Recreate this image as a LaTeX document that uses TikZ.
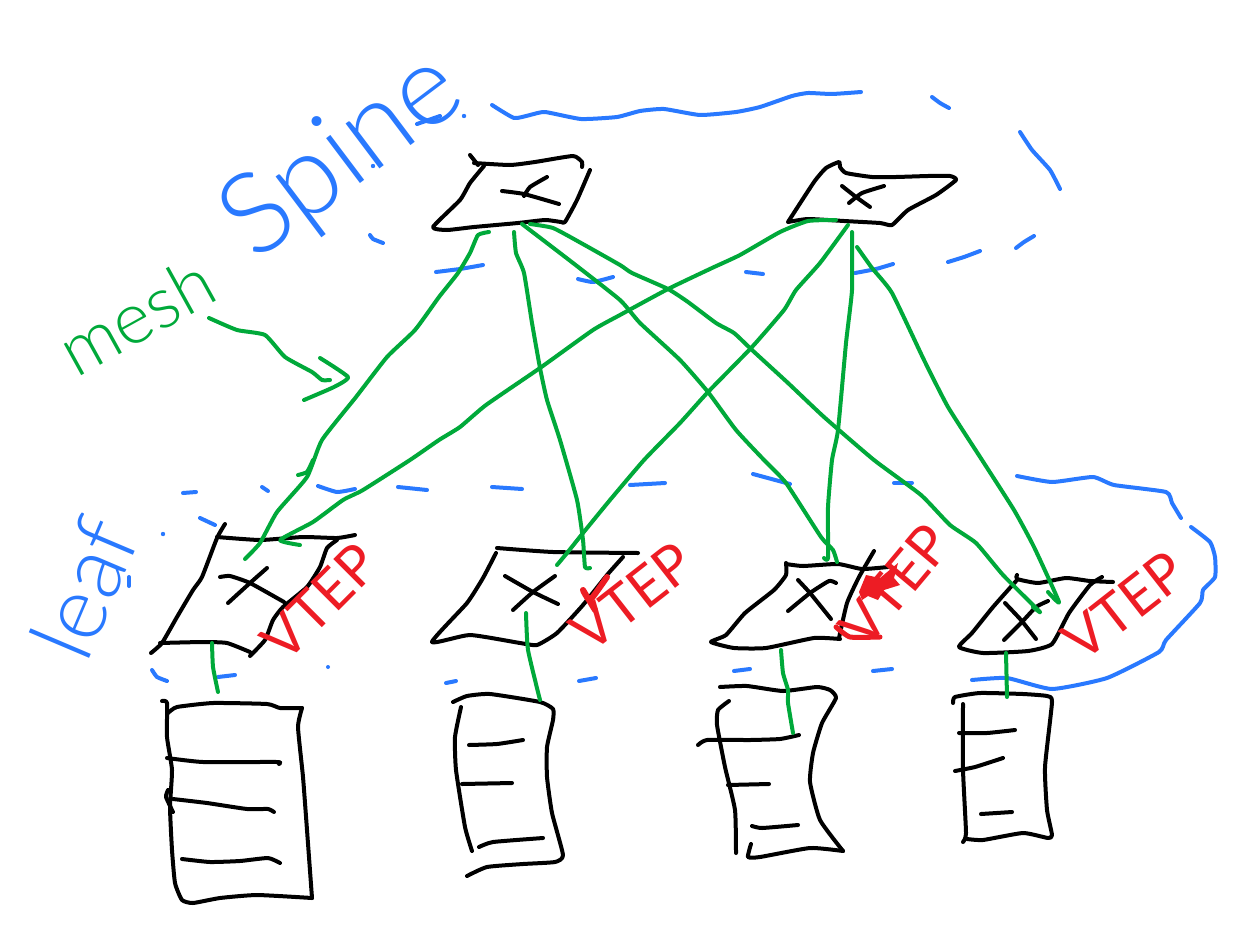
\documentclass[tikz,border=0pt]{standalone}
\usepackage{fontspec}
\newfontfamily\hand{Lato Light}
\newfontfamily\handb{Lato}
\definecolor{gk}{HTML}{00A93A}
\definecolor{bk}{HTML}{2979FF}
\definecolor{rk}{HTML}{ED1C24}
\tikzset{
 inkline/.style={line width=4pt,line cap=round,line join=round,smooth,tension=0.3},
 kk/.style={inkline,draw=black},
 gg/.style={inkline,draw=gk},
 bb/.style={inkline,draw=bk},
 rr/.style={inkline,draw=rk},
 lab/.style={inner sep=0pt,font=\hand},
 bluelab/.style={lab,text=bk},
 greenlab/.style={lab,text=gk},
 redlab/.style={lab,text=rk,font=\handb\fontsize{56}{56}\selectfont}
}
\begin{document}
\begin{tikzpicture}[x=1pt,y=-1pt]
\useasboundingbox (0,0) rectangle (1246,939);
\fill[white] (0,0) rectangle (1246,939);
% spine switch 1
\draw[kk] plot coordinates {(470,155)(478,165)};
\draw[kk] plot coordinates {(474,163)(510,165)(535,162)(573,156)(582,162)(582,167)};
\draw[kk] plot coordinates {(590,170)(577,200)(565,222)(561,222)(545,220)(518,223)(474,227)(447,230)(433,227)(460,200)(470,183)(484,166)};
\draw[kk] plot coordinates {(502,191)(524,194)(559,204)};
\draw[kk] plot coordinates {(547,177)(530,187)(524,196)};
% spine switch 2
\draw[kk] plot coordinates {(788,222)(814,182)(826,168)(839,162)(840,167)(846,173)(872,177)(896,177)(928,176)(950,176)(956,180)(936,195)(908,210)(892,225)(880,223)(844,221)(808,219)(788,222)};
\draw[kk] plot coordinates {(842,186)(856,197)(870,207)};
\draw[kk] plot coordinates {(884,186)(862,193)(849,203)};
% leaf switch 1
\draw[kk] plot coordinates {(225,524)(217,538)(202,577)(193,590)(177,617)(162,643)(151,653)};
\draw[kk] plot coordinates {(217,537)(260,540)(303,537)(337,538)(355,535)};
\draw[kk] plot coordinates {(337,540)(327,548)(320,567)(307,587)(283,607)(273,620)(265,640)(250,656)};
\draw[kk] plot coordinates {(160,643)(203,642)(227,643)(250,652)};
\draw[kk] plot coordinates {(220,577)(230,576)(250,583)(284,602)};
\draw[kk] plot coordinates {(267,568)(250,583)(228,603)};
% leaf switch 2
\draw[kk] plot coordinates {(497,548)(553,552)(638,553)};
\draw[kk] plot coordinates {(496,553)(483,578)(467,603)(432,642)(470,635)(520,643)(537,645)(557,633)(583,605)(607,575)(623,557)};
\draw[kk] plot coordinates {(505,576)(533,592)(558,604)};
\draw[kk] plot coordinates {(555,576)(533,592)(513,610)};
% leaf switch 3
\draw[kk] plot coordinates {(786,563)(786,575)(774,590)(745,613)(726,635)(711,642)(734,648)(766,648)(814,638)(840,639)};
\draw[kk] plot coordinates {(786,564)(803,566)(838,564)(862,569)(888,567)};
\draw[kk] plot coordinates {(874,551)(859,577)(847,603)(839,638)};
\draw[kk] plot coordinates {(798,580)(810,593)(831,619)};
\draw[kk] plot coordinates {(836,583)(829,581)(810,593)(788,611)};
% leaf switch 4
\draw[kk] plot coordinates {(1017,575)(1017,579)(1038,583)(1066,578)(1090,581)(1113,582)};
\draw[kk] plot coordinates {(1017,580)(993,607)(972,633)(959,647)(983,653)(1028,651)(1052,644)(1069,613)(1090,585)(1102,577)};
\draw[kk] plot coordinates {(1005,603)(1021,620)(1036,639)};
\draw[kk] plot coordinates {(1048,601)(1036,607)(1021,623)(1004,640)};
% server 1
\draw[kk] plot coordinates {(162,701)(167,703)(167,737)(172,770)(170,807)(172,850)(175,883)(182,900)(193,903)(220,898)(257,895)(312,898)};
\draw[kk] plot coordinates {(312,898)(307,830)(303,777)(298,727)(302,708)};
\draw[kk] plot coordinates {(302,708)(280,708)(267,704)(213,703)(177,707)(168,713)};
\draw[kk] plot coordinates {(167,758)(203,762)(277,762)(279,764)};
\draw[kk] plot coordinates {(173,799)(207,803)(247,809)(268,809)(274,812)};
\draw[kk] plot coordinates {(168,790)(166,797)(173,812)};
\draw[kk] plot coordinates {(182,859)(210,862)(240,861)(268,858)(280,863)};
% server 2
\draw[kk] plot coordinates {(453,702)(467,696)(490,694)(540,702)(553,709)(553,720)(547,747)(547,777)(552,813)(563,855)(555,862)(523,864)(487,867)(467,876)};
\draw[kk] plot coordinates {(461,707)(455,737)(456,770)(465,827)(472,851)};
\draw[kk] plot coordinates {(469,745)(497,744)(523,740)};
\draw[kk] plot coordinates {(462,784)(512,783)};
\draw[kk] plot coordinates {(479,847)(493,842)(543,838)};
% server 3
\draw[kk] plot coordinates {(720,687)(747,686)(783,691)(817,687)(830,690)(836,698)(822,723)(813,753)(810,782)(820,820)(843,851)};
\draw[kk] plot coordinates {(843,851)(810,848)(760,857)(748,857)(751,844)};
\draw[kk] plot coordinates {(729,701)(718,710)(717,725)(725,767)(735,810)(736,853)};
\draw[kk] plot coordinates {(698,745)(707,740)(750,740)(780,739)(799,735)};
\draw[kk] plot coordinates {(728,785)(769,784)};
\draw[kk] plot coordinates {(752,826)(762,828)(798,825)};
% server 4
\draw[kk] plot coordinates {(953,703)(955,697)(980,693)(1023,694)(1047,696)(1052,702)(1045,767)(1047,810)(1052,835)(1048,838)(1023,833)(983,840)(967,839)};
\draw[kk] plot coordinates {(963,704)(963,770)(966,833)(963,842)};
\draw[kk] plot coordinates {(959,733)(987,733)(1015,730)};
\draw[kk] plot coordinates {(955,771)(975,767)(1003,758)};
\draw[kk] plot coordinates {(981,814)(1012,812)};
% blue dashed outlines
\draw[bb] plot coordinates {(492,105)(514,118)(530,115)(545,112)(581,119)(617,117)(640,111)(664,109)(700,115)(736,112)(760,107)(792,96)(808,93)(832,94)(861,92)};
\draw[bb] plot coordinates {(932,97)(940,103)(949,108)};
\draw[bb] plot coordinates {(1020,132)(1032,150)(1050,170)(1060,189)};
\draw[bb] plot coordinates {(1034,236)(1024,242)(1016,248)};
\draw[bb] plot coordinates {(980,251)(964,257)(948,262)};
\draw[bb] plot coordinates {(893,264)(876,269)(855,273)};
\draw[bb] plot coordinates {(746,272)(763,274)};
\draw[bb] plot coordinates {(578,279)(593,282)(613,277)};
\draw[bb] plot coordinates {(436,272)(460,269)(483,265)};
\draw[bb] plot coordinates {(370,235)(373,239)(383,243)};
\draw[bb] plot coordinates {(417,124)(440,116)};
\fill[bk] (373,166) circle (2.2) (464,116) circle (2.2) (163,534) circle (2.2) (328,667) circle (2);
\draw[bb] plot coordinates {(1017,476)(1052,482)(1093,477)(1114,485)(1166,492)(1172,503)(1181,518)};
\draw[bb] plot coordinates {(1191,527)(1210,542)(1215,557)(1215,577)(1203,590)(1200,603)(1166,640)(1159,652)(1107,678)(1052,689)(1007,678)(972,680)};
\draw[bb] plot coordinates {(753,474)(790,484)};
\draw[bb] plot coordinates {(894,483)(912,483)};
\draw[bb] plot coordinates {(630,485)(665,483)};
\draw[bb] plot coordinates {(492,487)(522,489)};
\draw[bb] plot coordinates {(398,487)(427,490)};
\draw[bb] plot coordinates {(318,486)(337,492)(355,489)};
\draw[bb] plot coordinates {(262,487)(268,491)};
\draw[bb] plot coordinates {(183,493)(196,492)};
\draw[bb] plot coordinates {(200,518)(215,525)};
\draw[bb] plot coordinates {(129,577)(129,586)};
\draw[bb] plot coordinates {(152,670)(157,677)(167,681)};
\draw[bb] plot coordinates {(218,677)(235,675)};
\draw[bb] plot coordinates {(446,683)(456,681)};
\draw[bb] plot coordinates {(579,681)(596,678)};
\draw[bb] plot coordinates {(734,671)(750,669)};
\draw[bb] plot coordinates {(873,671)(892,669)};
% green links
\draw[gg] plot coordinates {(489,232)(478,235)(470,253)(458,273)(439,297)(415,330)(387,357)(356,397)(322,440)(307,477)(277,512)(260,543)(245,559)};
\draw[gg] plot coordinates {(298,475)(307,472)(313,460)};
\draw[gg] plot coordinates {(836,220)(808,221)(780,232)(740,255)(712,268)(668,289)(620,315)(593,330)(540,368)(486,405)(460,427)(439,440)(410,460)(363,490)(343,500)(313,522)(280,540)(300,545)};
\draw[gg] plot coordinates {(514,232)(516,253)(524,273)(532,323)(540,368)(547,400)(560,440)(577,500)(583,540)(585,567)(590,568)};
\draw[gg] plot coordinates {(848,225)(820,263)(796,290)(784,310)(752,347)(708,392)(680,423)(644,460)(610,500)(583,533)(567,553)(557,565)};
\draw[gg] plot coordinates {(522,224)(573,263)(620,300)(640,323)(680,360)(708,392)(736,430)(764,460)(786,483)(821,537)(833,550)(837,562)};
\draw[gg] plot coordinates {(852,232)(852,290)(846,343)(838,430)(832,460)(828,507)(828,558)(824,558)};
\draw[gg] plot coordinates {(530,224)(553,228)(581,243)(620,265)(632,273)(668,289)(688,302)(716,323)(734,333)(752,350)(788,383)(824,417)(874,460)(921,495)(950,525)(976,543)(1003,575)(1040,612)(1033,607)};
\draw[gg] plot coordinates {(857,247)(872,268)(892,293)(924,360)(948,407)(982,460)(1014,510)(1034,547)(1059,602)(1048,592)};
\draw[gg] plot coordinates {(212,643)(213,667)(218,692)};
\draw[gg] plot coordinates {(526,613)(528,650)(540,700)};
\draw[gg] plot coordinates {(781,650)(783,673)(788,690)(788,703)(793,733)};
\draw[gg] plot coordinates {(1006,653)(1007,697)};
% mesh arrow
\draw[gg] plot coordinates {(209,318)(237,330)(265,335)(285,357)(312,372)(322,380)(330,380)};
\draw[gg] plot coordinates {(320,358)(348,377)(334,387)(304,400)};
% handwritten words
\node[bluelab,rotate=37,font=\hand\fontsize{113}{113}\selectfont] (spine) at (344,158) {Spine};
\node[bluelab,rotate=67,font=\hand\fontsize{90}{90}\selectfont] (leaf) at (84,588) {leaf};
\node[greenlab,rotate=29,font=\hand\fontsize{72}{72}\selectfont] (mesh) at (136,316) {mesh};
\node[redlab,rotate=45] (vtepa) at (320,602) {VTEP};
\node[redlab,rotate=38] (vtepb) at (632,597) {VTEP};
\node[redlab,rotate=50] (vtepc) at (895,585) {VTEP};
\node[redlab,rotate=38] (vtepd) at (1124,606) {VTEP};
% red scribbles
\fill[rk] plot coordinates {(859,592)(866,575)(880,578)(898,563)(894,578)(900,585)(884,590)(878,600)(868,596)(862,600)};
\draw[rr,line width=5pt] plot coordinates {(836,627)(850,637)(880,637)};
\draw[rr,line width=6pt] plot coordinates {(607,577)(590,600)(583,590)(595,610)};
\end{tikzpicture}
\end{document}
